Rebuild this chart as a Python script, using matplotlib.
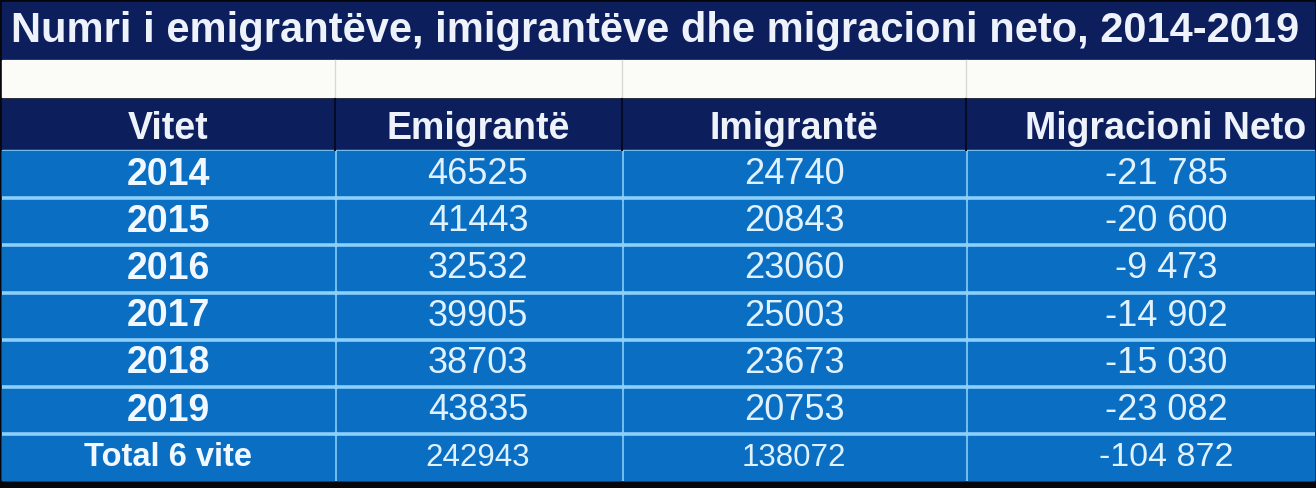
import matplotlib.pyplot as plt
from matplotlib.patches import Rectangle

# ---- data ----
title = 'Numri i emigrantëve, imigrantëve dhe migracioni neto, 2014-2019'
headers = ['Vitet', 'Emigrantë', 'Imigrantë', 'Migracioni Neto']
years = ['2014', '2015', '2016', '2017', '2018', '2019']
emigrants = [46525, 41443, 32532, 39905, 38703, 43835]
immigrants = [24740, 20843, 23060, 25003, 23673, 20753]
net = [-21785, -20600, -9473, -14902, -15030, -23082]
total_label = 'Total 6 vite'
total_emig = 242943
total_imig = 138072
total_net = -104872

NAVY = '#0c1f5c'
BLUE = '#0a6fc3'
LINE = '#8ccff8'
TXT = '#e0f1ff'


def fmt_net(v):
    # space as thousands separator, like the source
    return '{:,}'.format(v).replace(',', ' ')


W, H = 1316, 488
fig = plt.figure(figsize=(W / 100, H / 100), dpi=100, facecolor='#05070d')
ax = fig.add_axes([0, 0, 1, 1])
ax.set_xlim(0, W)
ax.set_ylim(H, 0)
ax.axis('off')
plt.rcParams['font.family'] = ['Liberation Sans', 'DejaVu Sans']

col_edges = [2, 335, 622, 966, 1314]
# last column is cut off at the right edge in the source, so its text sits further right
col_mid = [168, 478, 794, 1166]

# title band
ax.add_patch(Rectangle((2, 2), W - 4, 56, color=NAVY))
ax.text(655, 31, title, color='#eef2fb', fontsize=30, fontweight='bold',
        ha='center', va='center')

# empty white row
ax.add_patch(Rectangle((2, 60), W - 4, 37, color='#fbfbf8'))
for x in col_edges[1:-1]:
    ax.plot([x, x], [60, 97], color='#d8d8d4', lw=1)

# header row
ax.add_patch(Rectangle((2, 99), W - 4, 51, color=NAVY))
for x in col_edges[1:-1]:
    ax.plot([x, x], [99, 150], color='#050b25', lw=1.5)
for cx, h in zip(col_mid, headers):
    ax.text(cx, 129, h, color='#eef2fb', fontsize=27, fontweight='bold',
            ha='center', va='center')

# data rows
row_h = 47.2
top = 151
ax.add_patch(Rectangle((2, 150), W - 4, 330, color=LINE))
rows = [(y, str(e), str(i), fmt_net(n)) for y, e, i, n in zip(years, emigrants, immigrants, net)]
rows.append((total_label, str(total_emig), str(total_imig), fmt_net(total_net)))
for r, cells in enumerate(rows):
    y0 = top + r * row_h
    last = r == len(rows) - 1
    for c in range(4):
        x0 = col_edges[c] + (0 if c == 0 else 1.5)
        x1 = col_edges[c + 1] - (1.5 if c < 3 else 0)
        hgt = row_h - 3 if not last else 480 - y0
        ax.add_patch(Rectangle((x0, y0 + (2 if r > 0 else 0)), x1 - x0,
                               hgt - (2 if r > 0 else 0), color=BLUE))
    yc = y0 + row_h / 2
    ax.text(col_mid[0], yc, cells[0], color='#f2f8ff',
            fontsize=23.5 if last else 27, fontweight='bold',
            ha='center', va='center')
    for c in range(1, 4):
        size = 26
        if last:
            size = 22.5 if c < 3 else 24.5
        ax.text(col_mid[c], yc, cells[c], color=TXT, fontsize=size,
                ha='center', va='center')

fig.savefig('out.png', dpi=100, facecolor=fig.get_facecolor())
